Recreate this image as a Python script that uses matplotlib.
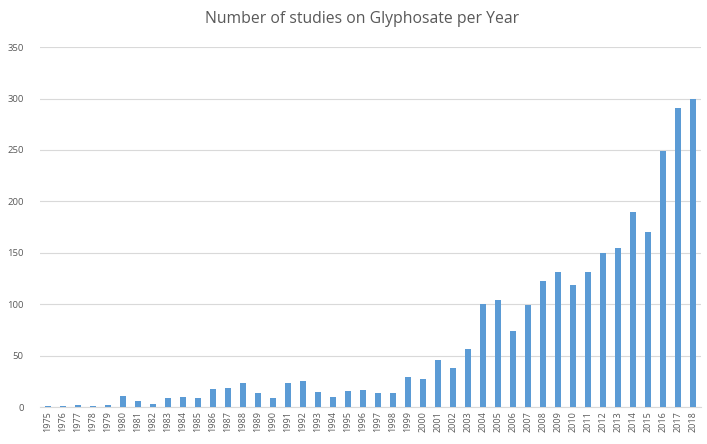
import matplotlib
matplotlib.use("Agg")
from matplotlib import pyplot as plt
import numpy as np

years = [str(y) for y in range(1975, 2019)]
studies = [1, 1, 2, 1, 2, 11, 6, 3, 9, 10,
           9, 18, 19, 23, 14, 9, 23, 25, 15, 10,
           16, 17, 14, 14, 29, 27, 46, 38, 57, 100,
           104, 74, 99, 123, 131, 119, 131, 150, 155, 190,
           170, 249, 291, 300]

plt.rcParams['font.family'] = ['Open Sans', 'DejaVu Sans']

fig = plt.figure(figsize=(7.07, 4.44), dpi=100)
ax = fig.add_axes([0.057, 0.083, 0.934, 0.811])

x = np.arange(len(years))
ax.bar(x, studies, width=0.4, color='#5B9BD5', zorder=3)

ax.set_xlim(-0.5, len(years) - 0.5)
ax.set_ylim(0, 350)
ax.set_yticks(range(0, 351, 50))
ax.set_xticks(x)
ax.set_xticklabels(years, rotation=90, fontsize=6.5, color='#595959')
ax.tick_params(axis='y', labelsize=6.8, colors='#595959', length=0, pad=12)
ax.tick_params(axis='x', length=0, pad=3)
ax.grid(axis='y', color='#D9D9D9', linewidth=0.8, zorder=0)
for side in ['top', 'right', 'left']:
    ax.spines[side].set_visible(False)
ax.spines['bottom'].set_color('#D9D9D9')

fig.text(0.512, 0.957, "Number of studies on Glyphosate per Year",
         ha='center', va='center', fontsize=11.3, color='#595959')

fig.savefig("out.png", dpi=100)
